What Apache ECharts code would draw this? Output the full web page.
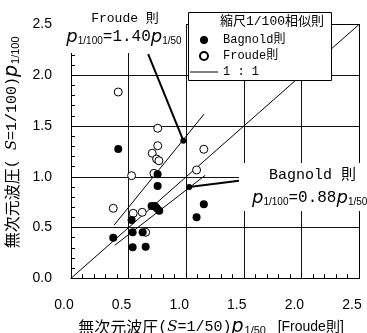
<!DOCTYPE html>
<html><head><meta charset="utf-8">
<script src="https://cdn.jsdelivr.net/npm/echarts@6/dist/echarts.min.js"></script>
<style>html,body{margin:0;padding:0;background:#fff}#c{width:367px;height:333px}</style>
</head><body><div id="c"></div>
<script>
// ---- data ----
const bagnoldX = [0.41, 0.752, 0.752, 0.70, 0.728, 0.766, 0.745, 1.153, 1.09, 0.526, 0.367, 0.535, 0.622, 0.535, 0.648];
const bagnoldY = [1.274, 1.025, 0.909, 0.712, 0.712, 0.666, 0.69, 0.729, 0.601, 0.574, 0.40, 0.453, 0.453, 0.305, 0.311];
const froudeX = [0.41, 0.753, 0.753, 0.705, 0.743, 0.763, 1.153, 1.09, 0.526, 0.72, 0.367, 0.54, 0.618, 0.648];
const froudeY = [1.835, 1.478, 1.306, 1.232, 1.175, 1.158, 1.271, 1.067, 1.011, 1.034, 0.69, 0.64, 0.65, 0.453];
const oneToOneX = [0, 2.5];
const oneToOneY = [0, 2.5];
const froudeFitX = [0.375, 1.155];
const froudeFitY = [0.525, 1.617];
const bagnoldFitX = [0.38, 1.165];
const bagnoldFitY = [0.325, 1.015];
const froudeLeaderX = [0.67, 0.975];
const froudeLeaderY = [2.207, 1.355];
const bagnoldLeaderX = [1.026, 1.578];
const bagnoldLeaderY = [0.90, 0.978];
const tickLabels = ['0.0', '0.5', '1.0', '1.5', '2.0', '2.5'];
const seriesNames = ['Bagnold則', 'Froude則', '1 : 1'];

const zip = (xs, ys) => xs.map((x, i) => [x, ys[i]]);
const MONO = '"Liberation Mono","Noto Sans CJK JP"';
const SANS = '"Liberation Sans","Noto Sans CJK JP"';
const CJK = '"Noto Sans CJK JP"';
const fmt = v => tickLabels[Math.round(v / 0.5)] ?? '';

const nameRich = {
  c: {fontSize: 16, fontFamily: CJK, color: '#000'},
  i: {fontSize: 15, fontFamily: '"DejaVu Serif"', fontStyle: 'italic', color: '#000'},
  n: {fontSize: 15, fontFamily: MONO, color: '#000'},
  p: {fontSize: 19, fontFamily: '"DejaVu Sans"', fontStyle: 'italic', color: '#000'},
  s: {fontSize: 11, fontFamily: SANS, color: '#000', padding: [9, 0, 0, 1]},
  b: {fontSize: 14, fontFamily: SANS, color: '#000'}
};

const chart = echarts.init(document.getElementById('c'), null, {renderer: 'canvas'});
const axisCommon = {
  min: 0, max: 2.5, interval: 0.5,
  axisLine: {show: true, onZero: false, lineStyle: {color: '#000', width: 1}},
  axisTick: {show: true, inside: true, length: 5, lineStyle: {color: '#000'}},
  minorTick: {show: true, splitNumber: 5, length: 4, lineStyle: {color: '#000'}},
  splitLine: {show: true, lineStyle: {color: '#111', width: 1}},
  axisLabel: {formatter: fmt, color: '#000', fontSize: 14, fontFamily: SANS}
};
const frameAxis = {
  min: 0, max: 2.5, interval: 0.5,
  axisLine: {show: true, onZero: false, lineStyle: {color: '#000', width: 1}},
  axisTick: {show: false}, axisLabel: {show: false}, splitLine: {show: false}
};
const option = {
  animation: false,
  backgroundColor: '#fff',
  grid: {left: 71, right: 8, top: 24.5, bottom: 54.7, containLabel: false, outerBoundsMode: 'none'},
  xAxis: [Object.assign({}, axisCommon, {
    type: 'value', position: 'bottom',
    axisLabel: Object.assign({}, axisCommon.axisLabel, {margin: 20, padding: [0, 14, 0, 0]}),
    name: '{c|無次元波圧}{n|(}{i|S}{n|=1/50)}{p|p}{s|1/50}{b|   [Froude則]}',
    nameLocation: 'middle', nameGap: 27,
    nameTextStyle: {color: '#000', padding: [0, 8, 0, 0], rich: nameRich}
  }), Object.assign({}, frameAxis, {type: 'value', position: 'top'})],
  yAxis: [Object.assign({}, axisCommon, {
    type: 'value', position: 'left',
    axisLabel: Object.assign({}, axisCommon.axisLabel, {margin: 19}),
    name: '{c|無次元波圧}{n|( }{i|S}{n|=1/100)}{p|p}{s|1/100}',
    nameLocation: 'middle', nameGap: 34, nameRotate: 90,
    nameTextStyle: {color: '#000', padding: [0, 0, 0, 18], rich: nameRich}
  }), Object.assign({}, frameAxis, {type: 'value', position: 'right'})],
  legend: {
    z: 60,
    left: 188, top: 12,
    orient: 'vertical',
    padding: [22, 4, 2, 2],
    itemWidth: 28, itemHeight: 8, itemGap: 4,
    symbolKeepAspect: true,
    textStyle: {fontSize: 12, fontFamily: MONO, color: '#000'},
    data: [
      {name: seriesNames[0], icon: 'circle'},
      {name: seriesNames[1], icon: 'circle'},
      {name: seriesNames[2], icon: 'path://M0,0H28V1H0Z'}
    ]
  },
  series: [
    {type: 'line', name: seriesNames[2], data: zip(oneToOneX, oneToOneY), symbol: 'none',
     lineStyle: {color: '#000', width: 1}, itemStyle: {color: '#000'}, z: 1},
    {type: 'line', name: 'Froude fit', data: zip(froudeFitX, froudeFitY), symbol: 'none',
     lineStyle: {color: '#000', width: 1}, z: 1},
    {type: 'line', name: 'Bagnold fit', data: zip(bagnoldFitX, bagnoldFitY), symbol: 'none',
     lineStyle: {color: '#000', width: 1}, z: 1},
    {type: 'line', name: 'Froude leader', data: zip(froudeLeaderX, froudeLeaderY), symbol: 'none',
     lineStyle: {color: '#000', width: 2}, z: 3},
    {type: 'line', name: 'Bagnold leader', data: zip(bagnoldLeaderX, bagnoldLeaderY), symbol: 'none',
     lineStyle: {color: '#000', width: 2}, z: 3},
    {type: 'scatter', name: 'leader ends',
     data: [[froudeLeaderX[1], froudeLeaderY[1]], [bagnoldLeaderX[0], bagnoldLeaderY[0]]],
     symbol: 'circle', symbolSize: 6, itemStyle: {color: '#000', opacity: 1}, z: 4},
    {type: 'scatter', name: seriesNames[1], data: zip(froudeX, froudeY), symbol: 'circle', symbolSize: 8,
     itemStyle: {color: '#fff', borderColor: '#000', borderWidth: 1, opacity: 1}, z: 4},
    {type: 'scatter', name: seriesNames[0], data: zip(bagnoldX, bagnoldY), symbol: 'circle', symbolSize: 8,
     itemStyle: {color: '#000', opacity: 1}, z: 5}
  ],
  graphic: [
    // Froude annotation
    {type: 'rect', z: 50, shape: {x: 58, y: 0, width: 128, height: 53}, style: {fill: '#fff'}},
    {type: 'text', z: 51, style: {x: 125, y: 19, text: 'Froude 則', align: 'center', verticalAlign: 'middle',
      fontSize: 13, fontFamily: MONO, fill: '#000'}},
    {type: 'text', z: 51, style: {x: 124, y: 37, align: 'center', verticalAlign: 'middle',
      text: '{p|p}{s|1/100}{m|=1.40}{p|p}{s|1/50}',
      rich: {
        p: {fontSize: 18, fontFamily: '"DejaVu Sans"', fontStyle: 'italic', fill: '#000'},
        s: {fontSize: 10, fontFamily: SANS, fill: '#000', padding: [9, 0, 0, 0]},
        m: {fontSize: 16, fontFamily: MONO, fill: '#000'}
      }}},
    // Bagnold annotation
    {type: 'rect', z: 50, shape: {x: 239, y: 163, width: 128, height: 48}, style: {fill: '#fff'}},
    {type: 'text', z: 51, style: {x: 269, y: 175, text: 'Bagnold 則', align: 'left', verticalAlign: 'middle',
      fontSize: 15, fontFamily: MONO, fill: '#000'}},
    {type: 'text', z: 51, style: {x: 252, y: 198, align: 'left', verticalAlign: 'middle',
      text: '{p|p}{s|1/100}{m|=0.88}{p|p}{s|1/50}',
      rich: {
        p: {fontSize: 18, fontFamily: '"DejaVu Sans"', fontStyle: 'italic', fill: '#000'},
        s: {fontSize: 10, fontFamily: SANS, fill: '#000', padding: [9, 0, 0, 0]},
        m: {fontSize: 16, fontFamily: MONO, fill: '#000'}
      }}},
    // legend box + title
    {type: 'rect', z: 52, shape: {x: 188.5, y: 12.5, width: 143, height: 68}, style: {fill: '#fff', stroke: '#000', lineWidth: 1}},
    {type: 'text', z: 53, style: {x: 220, y: 22, text: '縮尺1/100相似則', align: 'left', verticalAlign: 'middle',
      fontSize: 13, fontFamily: MONO, fill: '#000'}}
  ]
};
chart.setOption(option);
</script></body></html>
